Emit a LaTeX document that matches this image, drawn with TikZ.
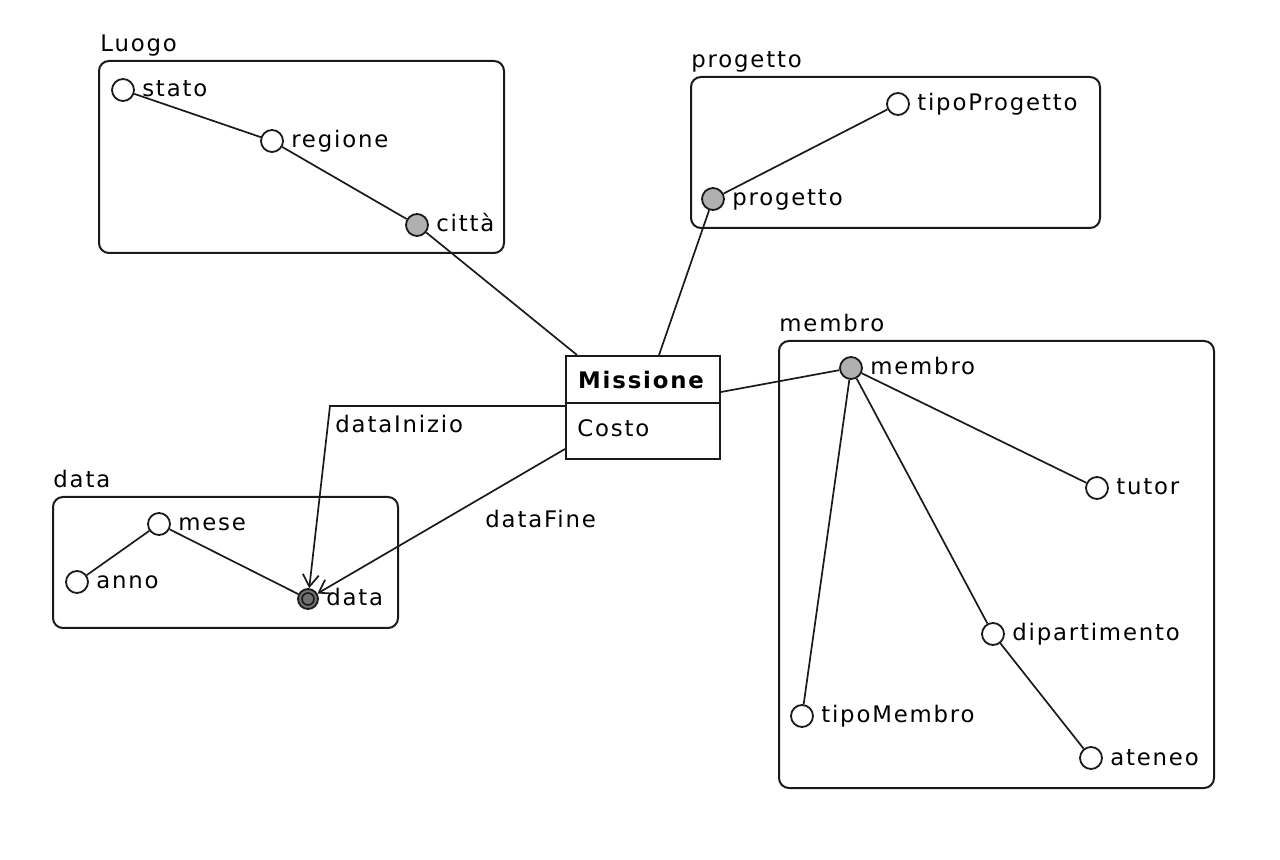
\documentclass[tikz,border=0pt]{standalone}
\usepackage{fontspec}
\setmainfont[LetterSpace=8]{DejaVu Sans}
\usetikzlibrary{positioning,arrows.meta,calc}
\definecolor{erLine}{HTML}{1A1A1A}
\definecolor{erGray}{HTML}{B0B0B0}
\definecolor{erDark}{HTML}{707070}
\newcommand{\erfont}{\fontsize{11.4pt}{13pt}\selectfont}
\tikzset{
  dimbox/.style={draw=erLine, line width=1pt, rounded corners=5pt},
  dimtitle/.style={anchor=base west, inner sep=0pt, font=\erfont},
  attrlbl/.style={font=\erfont, inner sep=0pt, text height=7pt, text depth=0pt},
  attr/.style={circle, draw=erLine, fill=white, line width=0.9pt,
               minimum size=11pt, inner sep=0pt,
               label={[attrlbl, label distance=3.5pt]right:#1}},
  keyattr/.style={attr=#1, fill=erGray},
  factkey/.style={attr=#1, fill=erDark, minimum size=10pt,
                  path picture={\draw[erLine, line width=0.8pt]
                    (path picture bounding box.center) circle (3pt);}},
  clsbox/.style={draw=erLine, line width=1pt, anchor=north west,
                 minimum width=77pt, minimum height=51.5pt, inner sep=0pt},
  edge/.style={draw=erLine, line width=0.85pt},
  refedge/.style={edge, -{Straight Barb[length=6pt, width=8pt]}},
  edgelbl/.style={font=\erfont, inner sep=0pt, anchor=base west},
}

\begin{document}
\begin{tikzpicture}[x=0.5pt, y=-0.5pt]
\useasboundingbox (0,0) rectangle (1280,860);
%% Dimension boxes
\draw[dimbox] (99,61) rectangle (504,253);
\node[dimtitle] (tLuogo) at (100,52) {Luogo};
\draw[dimbox] (691,77) rectangle (1100,228);
\node[dimtitle] (tProgetto) at (691,68) {progetto};
\draw[dimbox] (779,341) rectangle (1214,788);
\node[dimtitle] (tMembro) at (779,332) {membro};
\draw[dimbox] (53,497) rectangle (398,628);
\node[dimtitle] (tData) at (53,488) {data};
%% Fact
\node[clsbox] (mis) at (565,355) {};
\draw[edge, line width=1pt] ([yshift=-24pt]mis.north west) -- ([yshift=-24pt]mis.north east);
\node[font=\erfont\bfseries, anchor=base, inner sep=0pt] (misName) at (641,389) {Missione};
\node[edgelbl] (misCosto) at (577,437) {Costo};
%% Attributes
\node[attr=stato] (stato) at (123,90) {};
\node[attr=regione] (regione) at (272,141) {};
\node[keyattr=città] (citta) at (417,225) {};
\node[attr=tipoProgetto] (tipoProg) at (898,104) {};
\node[keyattr=progetto] (progetto) at (713,199) {};
\node[keyattr=membro] (membro) at (851,368) {};
\node[attr=tutor] (tutor) at (1097,488) {};
\node[attr=dipartimento] (dip) at (993,634) {};
\node[attr=ateneo] (ateneo) at (1091,758) {};
\node[attr=tipoMembro] (tipoMem) at (802,716) {};
\node[attr=mese] (mese) at (159,524) {};
\node[attr=anno] (anno) at (77,582) {};
\node[factkey=data] (data) at (308,599) {};
%% Edges
\draw[edge] (stato) -- (regione) -- (citta);
\draw[edge] (tipoProg) -- (progetto);
\draw[edge] (membro) -- (tutor);
\draw[edge] (membro) -- (dip) -- (ateneo);
\draw[edge] (membro) -- (tipoMem);
\draw[edge] (anno) -- (mese) -- (data);
\draw[edge] (citta) -- ([xshift=6pt]mis.north west);
\draw[edge] (progetto) -- ([xshift=47pt]mis.north west);
\draw[edge] ([yshift=-18.5pt]mis.north east) -- (membro);
\coordinate (bend) at (330,406);
\draw[refedge] ([yshift=-25.5pt]mis.north west) -- (bend) -- (data);
\draw[refedge] ([yshift=-47pt]mis.north west) -- (data);
\node[edgelbl] (lblInizio) at (335,433) {dataInizio};
\node[edgelbl] (lblFine) at (485,528) {dataFine};
\end{tikzpicture}
\end{document}
